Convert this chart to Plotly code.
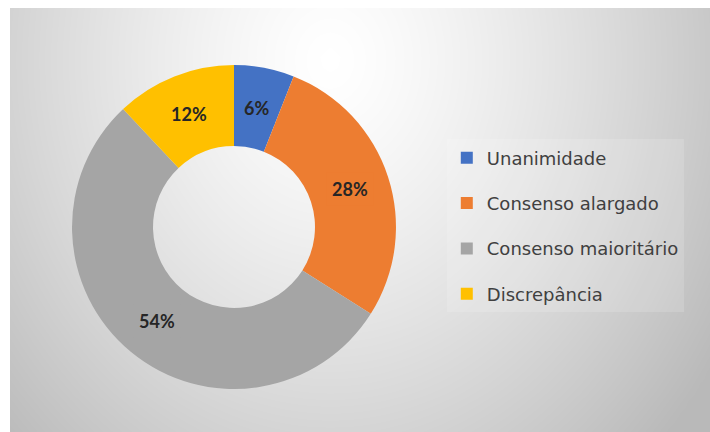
import numpy as np
import plotly.graph_objects as go

# Distribution of agreement levels
categories = ["Unanimidade", "Consenso alargado", "Consenso maioritário", "Discrepância"]
shares = [6, 28, 54, 12]
colors = ["#4472C4", "#ED7D31", "#A5A5A5", "#FFC000"]

W, H = 710, 432
ML, MT = 10, 8                      # white frame around the panel
PW, PH = W - ML, H - MT             # plot area in pixels

# Donut geometry (plot-area fractions)
dom_x = [0.0886, 0.5514]
dom_y = [0.1014, 0.8656]
hole = 0.5

fig = go.Figure()

# Soft radial background, brightest near the top centre
gx = np.linspace(ML, W, 71)
gy = np.linspace(MT, H, 44)
X, Y = np.meshgrid(gx, gy)
r = np.sqrt(((X - 330) / 420) ** 2 + ((Y - 60) / 500) ** 2)
shade = 255 - 62 * np.clip(r, 0, 1.1) ** 1.3
fig.add_trace(go.Heatmap(
    x=gx, y=gy, z=shade, zmin=0, zmax=255, zsmooth="best",
    colorscale=[[0, "rgb(0,0,0)"], [1, "rgb(255,255,255)"]],
    showscale=False, hoverinfo="skip",
))

fig.add_trace(go.Pie(
    labels=categories, values=shares, hole=hole, sort=False,
    direction="clockwise", rotation=0,
    marker=dict(colors=colors, line=dict(width=0)),
    textinfo="none", showlegend=False,
    domain=dict(x=dom_x, y=dom_y),
))

# Legend entries, one group each so they can be spaced out
for name, col in zip(categories, colors):
    fig.add_trace(go.Scatter(
        x=[None], y=[None], mode="markers", name=name, legendgroup=name,
        marker=dict(symbol="square", size=10, color=col),
    ))

# Boxed percentage labels placed in the middle of each ring segment
cx_px = ML + (dom_x[0] + dom_x[1]) / 2 * PW
cy_px = MT + (1 - (dom_y[0] + dom_y[1]) / 2) * PH
R_px = (dom_x[1] - dom_x[0]) / 2 * PW
r_lab = R_px * (1 + hole) / 2
total = sum(shares)
cum = 0
for v, col in zip(shares, colors):
    ang = 2 * np.pi * (cum + v / 2) / total
    cum += v
    px = cx_px + r_lab * np.sin(ang)
    py = cy_px - r_lab * np.cos(ang)
    fig.add_annotation(
        x=(px - ML) / PW, y=1 - (py - MT) / PH, xref="paper", yref="paper",
        xanchor="center", yanchor="middle",
        text=f"<b>{v}%</b>", showarrow=False,
        font=dict(family="Lato", size=18, color="#262626"),
        bgcolor=col, borderpad=5,
    )

fig.update_layout(
    width=W, height=H,
    margin=dict(l=ML, r=0, t=MT, b=0, pad=0),
    paper_bgcolor="white", plot_bgcolor="white",
    xaxis=dict(range=[ML, W], visible=False, fixedrange=True),
    yaxis=dict(range=[H, MT], visible=False, fixedrange=True),
    legend=dict(
        x=0.624, y=0.69, xanchor="left", yanchor="top",
        bgcolor="rgba(255,255,255,0.15)", tracegroupgap=19,
        font=dict(family="DejaVu Sans", size=18, color="#404040"),
        itemsizing="constant",
    ),
    showlegend=True,
)

fig.write_html("out.html")
